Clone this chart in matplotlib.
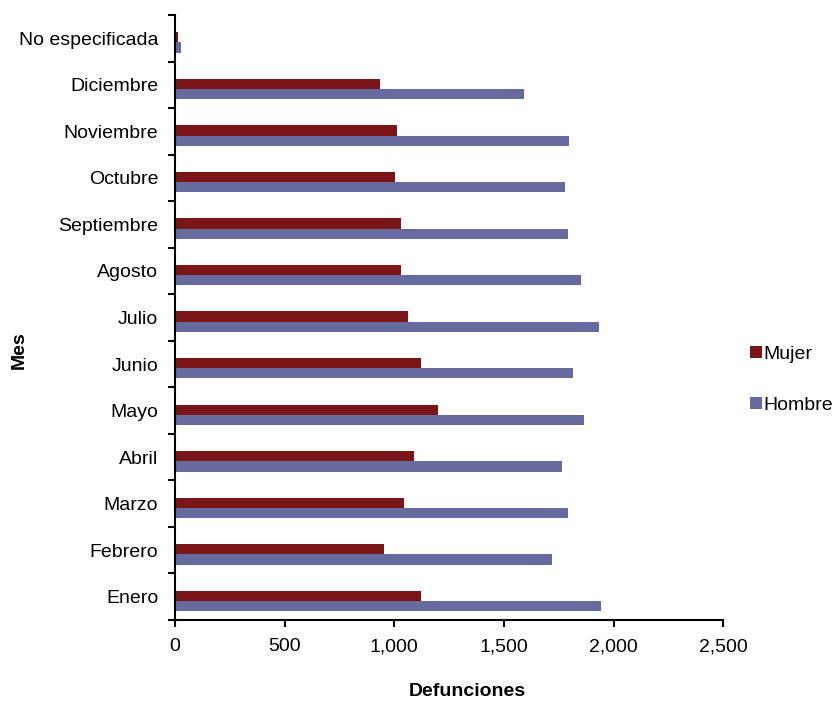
import matplotlib
matplotlib.use("Agg")
import matplotlib.pyplot as plt
import numpy as np

plt.rcParams['font.family'] = ['Liberation Sans', 'DejaVu Sans']

meses = ["Enero", "Febrero", "Marzo", "Abril", "Mayo", "Junio", "Julio",
         "Agosto", "Septiembre", "Octubre", "Noviembre", "Diciembre",
         "No especificada"]
mujer = [1121, 952, 1045, 1088, 1200, 1121, 1063, 1030, 1030, 1004, 1013, 934, 14]
hombre = [1942, 1720, 1790, 1764, 1866, 1816, 1933, 1849, 1790, 1779, 1797, 1592, 29]
xticks = [0, 500, 1000, 1500, 2000, 2500]
xticklabels = ["0", "500", "1,000", "1,500", "2,000", "2,500"]

c_mujer = "#7A1416"
c_hombre = "#666A9F"

fig = plt.figure(figsize=(8.36, 7.03), dpi=100)
ax = fig.add_axes([175/836, 1-620/703, (723.3-175)/836, (620-15)/703])

y = np.arange(len(meses))
h = 0.22
ax.barh(y + 0.02, mujer, height=h, color=c_mujer, label="Mujer")
ax.barh(y - 0.20, hombre, height=h, color=c_hombre, label="Hombre")

ax.set_xlim(0, 2500)
ax.set_ylim(-0.5, len(meses) - 0.5)
ax.set_xticks(xticks)
ax.set_xticklabels(xticklabels, fontsize=14)
ax.set_yticks(y)
ax.set_yticklabels(meses, fontsize=14)
ax.set_yticks(np.arange(-0.5, len(meses), 1.0), minor=True)
ax.tick_params(axis='y', which='major', length=0, pad=12)
ax.tick_params(axis='y', which='minor', length=5, width=1.5, direction='out')
ax.tick_params(axis='x', which='major', length=5, width=1.5, direction='out', pad=8)

for s in ['top', 'right']:
    ax.spines[s].set_visible(False)
for s in ['left', 'bottom']:
    ax.spines[s].set_linewidth(1.5)

ax.set_xlabel("Defunciones", fontsize=14, fontweight='bold')
ax.xaxis.set_label_coords((467-175)/548, (620-692)/605)
ax.xaxis.label.set_va('center')
ax.set_ylabel("Mes", fontsize=14, fontweight='bold')
ax.yaxis.set_label_coords((19-175)/548, (620-350)/605)
ax.yaxis.label.set_va('center')

leg = ax.legend(loc='center left', bbox_to_anchor=((742-175)/548, (620-380)/605),
                frameon=False, fontsize=14, handlelength=0.6, handleheight=0.6,
                handletextpad=0.1, labelspacing=1.75, borderaxespad=0)

fig.savefig("out.png", dpi=100)
